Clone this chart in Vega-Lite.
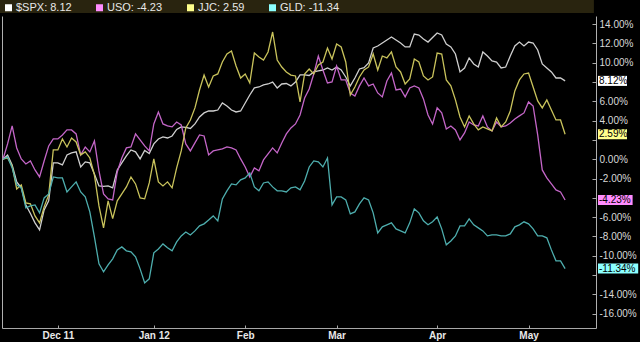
{
  "$schema": "https://vega.github.io/schema/vega-lite/v6.json",
  "autosize": {"type": "none"},
  "width": 594,
  "height": 312,
  "padding": {"left": 2, "top": 16, "right": 44, "bottom": 14},
  "background": "#000000",
  "config": {"view": {"stroke": null}, "font": "Liberation Sans"},
  "data": {"values": [
    {"i":0,"SPX":0,"USO":0,"JJC":0,"GLD":0},
    {"i":1,"SPX":0.42,"USO":1.59,"JJC":0.13,"GLD":0.24},
    {"i":2,"SPX":-0.59,"USO":3.45,"JJC":-0.69,"GLD":-0.9},
    {"i":3,"SPX":-2.35,"USO":1.17,"JJC":-3.08,"GLD":-2.66},
    {"i":4,"SPX":-2.97,"USO":0.03,"JJC":-2.66,"GLD":-2.97},
    {"i":5,"SPX":-4.74,"USO":-0.49,"JJC":-4.53,"GLD":-5.05},
    {"i":6,"SPX":-5.62,"USO":-0.18,"JJC":-4.63,"GLD":-4.84},
    {"i":7,"SPX":-6.6,"USO":-1.11,"JJC":-5.88,"GLD":-4.74},
    {"i":8,"SPX":-7.33,"USO":-1.84,"JJC":-6.6,"GLD":-5.56},
    {"i":9,"SPX":-5.25,"USO":-0.18,"JJC":-4.94,"GLD":-4.01},
    {"i":10,"SPX":-4.32,"USO":1.38,"JJC":-3.7,"GLD":-3.6},
    {"i":11,"SPX":-0.38,"USO":2.1,"JJC":0.96,"GLD":-1.84},
    {"i":12,"SPX":-0.38,"USO":2.1,"JJC":0.96,"GLD":-1.94},
    {"i":13,"SPX":-0.59,"USO":2.52,"JJC":2.1,"GLD":-1.94},
    {"i":14,"SPX":0.45,"USO":3.04,"JJC":1.27,"GLD":-3.39},
    {"i":15,"SPX":0.65,"USO":3.04,"JJC":2.2,"GLD":-2.87},
    {"i":16,"SPX":0.76,"USO":2.62,"JJC":1.79,"GLD":-2.35},
    {"i":17,"SPX":-0.8,"USO":0.45,"JJC":0.45,"GLD":-3.39},
    {"i":18,"SPX":-0.28,"USO":1.27,"JJC":0.76,"GLD":-3.91},
    {"i":19,"SPX":-0.38,"USO":0.76,"JJC":0.13,"GLD":-5.46},
    {"i":20,"SPX":-1.52,"USO":1.9,"JJC":-1.63,"GLD":-8.05},
    {"i":21,"SPX":-2.77,"USO":-1.21,"JJC":-4.84,"GLD":-10.85},
    {"i":22,"SPX":-2.82,"USO":-3.6,"JJC":-7.12,"GLD":-11.68},
    {"i":23,"SPX":-2.77,"USO":-4.11,"JJC":-4.32,"GLD":-10.95},
    {"i":24,"SPX":-2.97,"USO":-4.22,"JJC":-6.16,"GLD":-10.33},
    {"i":25,"SPX":-1.11,"USO":-1.32,"JJC":-4.32,"GLD":-9.4},
    {"i":26,"SPX":-0.38,"USO":0.13,"JJC":-3.6,"GLD":-9.09},
    {"i":27,"SPX":0.34,"USO":1.17,"JJC":-2.87,"GLD":-9.5},
    {"i":28,"SPX":0.96,"USO":1.27,"JJC":-1.84,"GLD":-9.61},
    {"i":29,"SPX":0.76,"USO":2.62,"JJC":-2.56,"GLD":-10.12},
    {"i":30,"SPX":0.03,"USO":2.0,"JJC":-4.01,"GLD":-11.37},
    {"i":31,"SPX":0.91,"USO":1.38,"JJC":-4.11,"GLD":-12.82},
    {"i":32,"SPX":0.6,"USO":0.86,"JJC":-2.46,"GLD":-12.4},
    {"i":33,"SPX":1.59,"USO":3.66,"JJC":0.03,"GLD":-9.71},
    {"i":34,"SPX":2.1,"USO":4.9,"JJC":-2.35,"GLD":-9.3},
    {"i":35,"SPX":2.31,"USO":3.66,"JJC":-2.77,"GLD":-8.78},
    {"i":36,"SPX":2.2,"USO":3.45,"JJC":-2.35,"GLD":-9.19},
    {"i":37,"SPX":2.41,"USO":3.35,"JJC":-2.97,"GLD":-9.5},
    {"i":38,"SPX":3.09,"USO":3.86,"JJC":-0.9,"GLD":-8.57},
    {"i":39,"SPX":3.35,"USO":3.55,"JJC":0.86,"GLD":-7.95},
    {"i":40,"SPX":3.3,"USO":1.59,"JJC":3.24,"GLD":-7.54},
    {"i":41,"SPX":3.19,"USO":0.86,"JJC":4.07,"GLD":-7.85},
    {"i":42,"SPX":3.66,"USO":1.69,"JJC":5.32,"GLD":-7.43},
    {"i":43,"SPX":4.38,"USO":2.52,"JJC":7.18,"GLD":-6.91},
    {"i":44,"SPX":4.8,"USO":2.41,"JJC":8.73,"GLD":-6.7},
    {"i":45,"SPX":5.0,"USO":0.45,"JJC":7.49,"GLD":-6.29},
    {"i":46,"SPX":5.0,"USO":0.86,"JJC":8.63,"GLD":-5.88},
    {"i":47,"SPX":5.1,"USO":0.96,"JJC":8.84,"GLD":-6.39},
    {"i":48,"SPX":5.83,"USO":1.07,"JJC":10.08,"GLD":-4.11},
    {"i":49,"SPX":5.52,"USO":1.27,"JJC":10.91,"GLD":-3.28},
    {"i":50,"SPX":5.1,"USO":1.17,"JJC":11.22,"GLD":-2.56},
    {"i":51,"SPX":4.9,"USO":0.96,"JJC":9.67,"GLD":-2.66},
    {"i":52,"SPX":5.0,"USO":0.03,"JJC":8.42,"GLD":-2.14},
    {"i":53,"SPX":5.83,"USO":-0.8,"JJC":8.84,"GLD":-1.94},
    {"i":54,"SPX":6.66,"USO":-1.84,"JJC":7.91,"GLD":-1.42},
    {"i":55,"SPX":7.39,"USO":-0.9,"JJC":11.01,"GLD":-2.87},
    {"i":56,"SPX":7.49,"USO":-1.21,"JJC":10.6,"GLD":-3.28},
    {"i":57,"SPX":7.7,"USO":-0.07,"JJC":10.29,"GLD":-2.46},
    {"i":58,"SPX":7.8,"USO":0.55,"JJC":11.12,"GLD":-2.35},
    {"i":59,"SPX":8.0,"USO":1.17,"JJC":13.19,"GLD":-2.87},
    {"i":60,"SPX":7.39,"USO":0.65,"JJC":10.29,"GLD":-3.28},
    {"i":61,"SPX":7.8,"USO":1.69,"JJC":9.56,"GLD":-3.28},
    {"i":62,"SPX":7.85,"USO":2.62,"JJC":9.05,"GLD":-3.39},
    {"i":63,"SPX":7.6,"USO":3.24,"JJC":8.73,"GLD":-2.97},
    {"i":64,"SPX":8.0,"USO":3.66,"JJC":8.63,"GLD":-2.87},
    {"i":65,"SPX":8.74,"USO":4.59,"JJC":5.94,"GLD":-3.18},
    {"i":66,"SPX":8.74,"USO":6.35,"JJC":8.84,"GLD":-2.25},
    {"i":67,"SPX":8.68,"USO":7.28,"JJC":9.36,"GLD":-0.8},
    {"i":68,"SPX":9.05,"USO":8.84,"JJC":8.84,"GLD":-0.18},
    {"i":69,"SPX":9.15,"USO":10.7,"JJC":9.77,"GLD":-0.28},
    {"i":70,"SPX":9.25,"USO":9.25,"JJC":10.08,"GLD":-0.8},
    {"i":71,"SPX":9.46,"USO":7.91,"JJC":11.53,"GLD":0.13},
    {"i":72,"SPX":9.25,"USO":8.01,"JJC":10.39,"GLD":-4.74},
    {"i":73,"SPX":9.56,"USO":9.67,"JJC":11.95,"GLD":-3.91},
    {"i":74,"SPX":9.25,"USO":8.22,"JJC":11.64,"GLD":-3.91},
    {"i":75,"SPX":8.53,"USO":8.22,"JJC":10.08,"GLD":-4.22},
    {"i":76,"SPX":7.6,"USO":6.87,"JJC":6.66,"GLD":-5.67},
    {"i":77,"SPX":8.42,"USO":6.56,"JJC":7.49,"GLD":-5.46},
    {"i":78,"SPX":9.36,"USO":7.6,"JJC":8.53,"GLD":-4.63},
    {"i":79,"SPX":9.5,"USO":8.42,"JJC":9.25,"GLD":-4.01},
    {"i":80,"SPX":9.98,"USO":7.6,"JJC":9.57,"GLD":-4.22},
    {"i":81,"SPX":11.53,"USO":7.8,"JJC":10.91,"GLD":-5.56},
    {"i":82,"SPX":11.74,"USO":6.87,"JJC":9.25,"GLD":-7.64},
    {"i":83,"SPX":12.05,"USO":6.46,"JJC":10.7,"GLD":-7.01},
    {"i":84,"SPX":12.36,"USO":8.11,"JJC":10.5,"GLD":-6.8},
    {"i":85,"SPX":12.67,"USO":8.94,"JJC":11.12,"GLD":-6.6},
    {"i":86,"SPX":12.36,"USO":7.18,"JJC":9.57,"GLD":-7.22},
    {"i":87,"SPX":12.05,"USO":7.28,"JJC":9.05,"GLD":-7.43},
    {"i":88,"SPX":11.64,"USO":6.46,"JJC":7.8,"GLD":-7.64},
    {"i":89,"SPX":11.64,"USO":7.39,"JJC":8.32,"GLD":-6.6},
    {"i":90,"SPX":12.98,"USO":7.6,"JJC":10.39,"GLD":-5.15},
    {"i":91,"SPX":12.88,"USO":7.39,"JJC":10.08,"GLD":-5.56},
    {"i":92,"SPX":12.47,"USO":6.25,"JJC":8.63,"GLD":-6.39},
    {"i":93,"SPX":12.15,"USO":4.59,"JJC":8.22,"GLD":-6.8},
    {"i":94,"SPX":12.62,"USO":3.66,"JJC":8.53,"GLD":-6.49},
    {"i":95,"SPX":13.09,"USO":5.32,"JJC":11.01,"GLD":-5.98},
    {"i":96,"SPX":12.88,"USO":4.8,"JJC":10.91,"GLD":-7.22},
    {"i":97,"SPX":11.95,"USO":3.14,"JJC":8.22,"GLD":-8.88},
    {"i":98,"SPX":11.64,"USO":3.45,"JJC":7.6,"GLD":-8.47},
    {"i":99,"SPX":10.91,"USO":3.04,"JJC":6.15,"GLD":-7.95},
    {"i":100,"SPX":9.05,"USO":2.0,"JJC":4.38,"GLD":-6.91},
    {"i":101,"SPX":9.46,"USO":2.73,"JJC":3.35,"GLD":-6.91},
    {"i":102,"SPX":10.5,"USO":3.86,"JJC":4.49,"GLD":-6.19},
    {"i":103,"SPX":9.88,"USO":3.55,"JJC":3.66,"GLD":-6.8},
    {"i":104,"SPX":9.56,"USO":3.45,"JJC":3.04,"GLD":-7.12},
    {"i":105,"SPX":11.12,"USO":4.49,"JJC":3.35,"GLD":-7.43},
    {"i":106,"SPX":10.7,"USO":3.35,"JJC":3.14,"GLD":-7.95},
    {"i":107,"SPX":10.19,"USO":2.93,"JJC":2.93,"GLD":-7.85},
    {"i":108,"SPX":10.08,"USO":3.86,"JJC":4.28,"GLD":-7.85},
    {"i":109,"SPX":9.46,"USO":3.35,"JJC":3.35,"GLD":-7.95},
    {"i":110,"SPX":9.56,"USO":3.45,"JJC":3.86,"GLD":-7.95},
    {"i":111,"SPX":10.7,"USO":3.76,"JJC":5.0,"GLD":-7.74},
    {"i":112,"SPX":11.74,"USO":4.18,"JJC":7.08,"GLD":-7.01},
    {"i":113,"SPX":12.15,"USO":4.49,"JJC":8.22,"GLD":-6.8},
    {"i":114,"SPX":11.74,"USO":4.8,"JJC":8.84,"GLD":-6.49},
    {"i":115,"SPX":12.15,"USO":5.94,"JJC":8.94,"GLD":-6.7},
    {"i":116,"SPX":12.05,"USO":5.52,"JJC":7.49,"GLD":-7.22},
    {"i":117,"SPX":11.33,"USO":2.52,"JJC":6.04,"GLD":-7.95},
    {"i":118,"SPX":9.88,"USO":-1.11,"JJC":5.32,"GLD":-7.95},
    {"i":119,"SPX":9.46,"USO":-1.94,"JJC":6.15,"GLD":-8.15},
    {"i":120,"SPX":9.05,"USO":-2.56,"JJC":5.11,"GLD":-9.4},
    {"i":121,"SPX":8.42,"USO":-3.18,"JJC":4.07,"GLD":-10.54},
    {"i":122,"SPX":8.42,"USO":-3.39,"JJC":4.07,"GLD":-10.54},
    {"i":123,"SPX":8.12,"USO":-4.23,"JJC":2.59,"GLD":-11.34}
  ]},
  "transform": [{"fold": ["SPX", "USO", "JJC", "GLD"], "as": ["s", "v"]}],
  "layer": [
    {
      "data": {"values": [{"band": "legend"}]},
      "mark": {"type": "rect", "fill": "#29240f", "clip": false},
      "encoding": {
        "x": {"datum": -0.66, "type": "quantitative", "title": null},
        "x2": {"datum": 129.3},
        "y": {"datum": 16.51, "type": "quantitative", "axis": null},
        "y2": {"datum": 15.16}
      }
    },
    {
      "mark": {"type": "line", "strokeWidth": 1.3},
      "encoding": {
        "x": {
          "field": "i", "type": "quantitative",
          "scale": {"domain": [-0.22, 129.76], "nice": false, "zero": false},
          "axis": {
            "title": null, "grid": false,
            "values": [12, 33, 53, 73, 95, 115],
            "labelExpr": "datum.value == 12 ? 'Dec 11' : datum.value == 33 ? 'Jan 12' : datum.value == 53 ? 'Feb' : datum.value == 73 ? 'Mar' : datum.value == 95 ? 'Apr' : 'May'",
            "domainColor": "#a8a8a8", "tickColor": "#a8a8a8", "tickSize": -3,
            "labelPadding": 5, "labelColor": "#e8e8e8", "labelFontSize": 10,
            "labelFontWeight": "bold", "labelFlush": false
          }
        },
        "y": {
          "field": "v", "type": "quantitative",
          "scale": {"domain": [-17.5, 14.85], "nice": false, "zero": false},
          "axis": {
            "orient": "right", "title": null, "grid": false,
            "values": [-16, -14, -12, -10, -8, -6, -4, -2, 0, 2, 4, 6, 8, 10, 12, 14],
            "labelExpr": "indexof([8, 2, -4, -12], datum.value) >= 0 ? '' : (datum.value < 0 ? '-' : '') + format(abs(datum.value), '.2f') + '%'",
            "domainColor": "#b0b0b0", "tickColor": "#a8a8a8", "tickSize": -4,
            "labelPadding": 7, "labelColor": "#d8d8d8", "labelFontSize": 10,
            "labelFlush": false
          }
        },
        "stroke": {
          "field": "s", "type": "nominal",
          "scale": {"range": ["#4eaeae", "#c9c35c", "#cfcfcf", "#c466c8"]},
          "legend": null
        }
      }
    },
    {
      "transform": [
        {"filter": "datum.i == 123"},
        {"calculate": "(datum.v < 0 ? '-' : '') + format(abs(datum.v), '.2f') + '%'", "as": "label"},
        {"calculate": "130.2 + (length(datum.label) * 5.6 + 1) / 4.57", "as": "xe"},
        {"calculate": "datum.v - 0.52", "as": "lo"},
        {"calculate": "datum.v + 0.52", "as": "hi"}
      ],
      "mark": {"type": "rect", "clip": false},
      "encoding": {
        "x": {"field": "xe", "type": "quantitative", "title": null},
        "x2": {"datum": 130.2},
        "y": {
          "field": "lo", "type": "quantitative",
          "axis": {"orient": "left", "title": null, "labels": false, "ticks": false, "grid": false, "domainColor": "#b0b0b0"}
        },
        "y2": {"field": "hi"},
        "fill": {
          "field": "s", "type": "nominal",
          "scale": {"domain": ["SPX", "USO", "JJC", "GLD"], "range": ["#ffffff", "#ff8cff", "#ffff8c", "#8cffff"]},
          "legend": {
            "orient": "none", "legendX": 1, "legendY": -14,
            "direction": "horizontal", "columns": 4, "title": null,
            "symbolType": "square", "symbolSize": 49, "symbolStrokeWidth": 0,
            "labelColor": "#e8e8e8", "labelFontSize": 11, "labelOffset": 2,
            "columnPadding": 22, "padding": 0,
            "labelExpr": "datum.label == 'SPX' ? '$SPX: 8.12' : datum.label == 'USO' ? 'USO: -4.23' : datum.label == 'JJC' ? 'JJC: 2.59' : 'GLD: -11.34'"
          }
        }
      }
    },
    {
      "transform": [
        {"filter": "datum.i == 123"},
        {"calculate": "(datum.v < 0 ? '-' : '') + format(abs(datum.v), '.2f') + '%'", "as": "label"}
      ],
      "mark": {"type": "text", "align": "left", "baseline": "middle", "dx": 1, "fontSize": 10, "fill": "#000000", "clip": false},
      "encoding": {
        "x": {"datum": 130.2, "type": "quantitative", "title": null},
        "y": {"field": "v", "type": "quantitative", "axis": null},
        "text": {"field": "label"}
      }
    }
  ],
  "resolve": {"axis": {"y": "independent"}}
}
